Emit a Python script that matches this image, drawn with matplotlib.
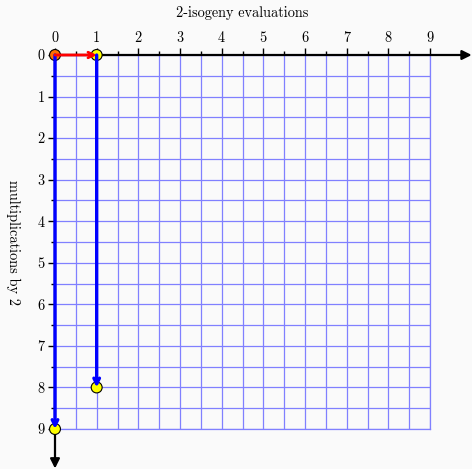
import matplotlib
matplotlib.use("Agg")
import matplotlib.pyplot as plt
from matplotlib.patches import FancyArrowPatch

plt.rcParams['font.family'] = 'serif'
plt.rcParams['font.serif'] = ['cmr10', 'DejaVu Serif']
plt.rcParams['axes.formatter.use_mathtext'] = True
plt.rcParams['mathtext.fontset'] = 'cm'

# data
ticks = list(range(10))
tick_labels = [str(t) for t in ticks]
point_x = [0, 1, 1, 0]
point_y = [0, 0, 8, 9]
point_colors = ['#ff7000', '#ffff00', '#ffff00', '#ffff00']
red_arrows = [((0, 0), (1, 0))]
blue_arrows = [((0, 0), (0, 9)), ((1, 0), (1, 8))]
title = "2-isogeny evaluations"
ylabel = "multiplications by 2"

bg = '#fafafa'
fig = plt.figure(figsize=(4.72, 4.69), dpi=100, facecolor=bg)
ax = fig.add_axes([55/472, 40/469, 375/472, 374/469])
ax.set_facecolor(bg)
ax.set_xlim(0, 9)
ax.set_ylim(9, 0)

for s in ['bottom', 'right', 'top', 'left']:
    ax.spines[s].set_visible(False)

ax.xaxis.tick_top()
ax.set_xticks(ticks)
ax.set_xticklabels(tick_labels, fontsize=10.3)
ax.set_yticks(ticks)
ax.set_yticklabels(tick_labels, fontsize=10.3)
ax.set_xticks([t + 0.5 for t in ticks[:-1]], minor=True)
ax.set_yticks([t + 0.5 for t in ticks[:-1]], minor=True)
ax.tick_params(which='major', direction='out', length=5, width=1.0, color='black', pad=2.5)
ax.tick_params(which='minor', direction='out', length=3, width=1.0, color='black')
ax.tick_params(axis='x', which='both', top=True, bottom=False)
ax.tick_params(axis='y', which='both', left=True, right=False)

ax.grid(True, which='both', color='#8080ff', linewidth=0.9, zorder=0)
ax.set_axisbelow(True)
# right/bottom border lines of grid
ax.plot([9, 9], [0, 9], color='#8080ff', lw=0.9, clip_on=False, zorder=1)
ax.plot([0, 9], [9, 9], color='#8080ff', lw=0.9, clip_on=False, zorder=1)

# axis arrows
ax.add_patch(FancyArrowPatch((0, 0), (10.0, 0), arrowstyle='-|>', mutation_scale=14,
                             color='black', lw=1.6, clip_on=False, zorder=3, shrinkA=0, shrinkB=0))
ax.add_patch(FancyArrowPatch((0, 0), (0, 9.95), arrowstyle='-|>', mutation_scale=14,
                             color='black', lw=1.6, clip_on=False, zorder=3, shrinkA=0, shrinkB=0))

# points
ax.scatter(point_x, point_y, s=62, c=point_colors, edgecolors='black', linewidths=0.8,
           zorder=5, clip_on=False)

# arrows
for (a, b) in blue_arrows:
    ax.add_patch(FancyArrowPatch(a, b, arrowstyle='->', mutation_scale=10, color='#0000ff',
                                 lw=2.4, clip_on=False, zorder=6, shrinkA=0, shrinkB=0))
for (a, b) in red_arrows:
    ax.add_patch(FancyArrowPatch(a, b, arrowstyle='->', mutation_scale=10, color='#ff0000',
                                 lw=2.0, clip_on=False, zorder=6, shrinkA=0, shrinkB=0))

fig.text(242/472, 1 - 13/469, title, ha='center', va='center', fontsize=10.3)
fig.text(13/472, 1 - 242/469, ylabel, ha='center', va='center', fontsize=10.3, rotation=-90)

fig.savefig('out.png', dpi=100, facecolor=bg)
